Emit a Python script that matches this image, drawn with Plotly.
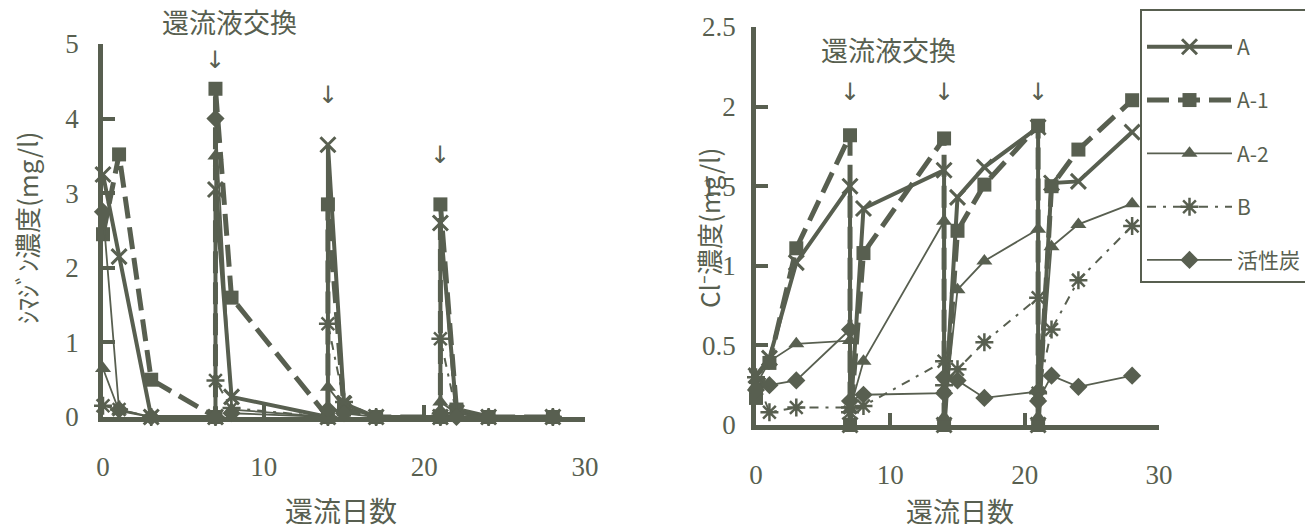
import plotly.graph_objects as go

# ---------------- data ----------------
days = [0, 1, 3, 7, 7, 8, 14, 14, 15, 17, 21, 21, 22, 24, 28]
names = ["A", "A-1", "A-2", "B", "活性炭"]

# simazine concentration (mg/l)
sim_A   = [3.25, 2.15, 0.00, 0.00, 3.05, 0.27, 0.00, 3.65, 0.18, 0.00, 0.00, 2.60, 0.06, 0.00, 0.00]
sim_A1  = [2.45, 3.52, 0.50, 0.00, 4.40, 1.60, 0.00, 2.85, 0.10, 0.00, 0.00, 2.85, 0.10, 0.00, 0.00]
sim_A2  = [0.65, 0.08, 0.00, 0.00, 3.50, 0.10, 0.00, 0.40, 0.12, 0.00, 0.00, 0.20, 0.05, 0.00, 0.00]
sim_B   = [0.15, 0.10, 0.00, 0.00, 0.49, 0.12, 0.00, 1.25, 0.20, 0.00, 0.00, 1.05, 0.05, 0.00, 0.00]
sim_AC  = [2.75, 0.10, 0.00, 0.00, 4.00, 0.05, 0.00, 0.10, 0.05, 0.00, 0.00, 0.05, 0.00, 0.00, 0.00]

# chloride concentration (mg/l)
cl_A    = [0.31, 0.42, 1.02, 1.50, 0.00, 1.36, 1.60, 0.00, 1.43, 1.62, 1.87, 0.00, 1.52, 1.53, 1.84]
cl_A1   = [0.17, 0.39, 1.11, 1.82, 0.00, 1.08, 1.80, 0.00, 1.22, 1.51, 1.88, 0.00, 1.50, 1.73, 2.04]
cl_A2   = [0.25, 0.40, 0.51, 0.53, 0.10, 0.40, 1.28, 0.05, 0.85, 1.03, 1.23, 0.05, 1.12, 1.26, 1.39]
cl_B    = [0.30, 0.08, 0.11, 0.11, 0.08, 0.12, 0.40, 0.25, 0.35, 0.52, 0.80, 0.20, 0.60, 0.91, 1.25]
cl_AC   = [0.22, 0.25, 0.28, 0.60, 0.15, 0.19, 0.20, 0.30, 0.28, 0.17, 0.21, 0.15, 0.31, 0.24, 0.31]

sim_series = [sim_A, sim_A1, sim_A2, sim_B, sim_AC]
cl_series = [cl_A, cl_A1, cl_A2, cl_B, cl_AC]

left_yticks = [0, 1, 2, 3, 4, 5]
right_yticks = [0, 0.5, 1, 1.5, 2, 2.5]
right_yticklabels = ["0", "0.5", "1", "1.5", "2", "2.5"]
xticks = [0, 10, 20, 30]
exchange_days = [7, 14, 21]

# ---------------- style ----------------
C = "#585f50"
W, H = 1305, 531
SERIF = "Liberation Serif"
JP = "Noto Sans CJK JP"

styles = [
    dict(line=dict(color=C, width=4),
         marker=dict(symbol="x-thin", size=15, color=C, line=dict(width=3, color=C))),
    dict(line=dict(color=C, width=5, dash="22px,9px"),
         marker=dict(symbol="square", size=14, color=C)),
    dict(line=dict(color=C, width=1.8),
         marker=dict(symbol="triangle-up", size=14, color=C)),
    dict(line=dict(color=C, width=2, dash="9px,7px,3px,7px"),
         marker=dict(symbol="asterisk", size=15, color=C, line=dict(width=2.5, color=C))),
    dict(line=dict(color=C, width=1.8),
         marker=dict(symbol="diamond", size=14, color=C)),
]

fig = go.Figure()
for i, n in enumerate(names):
    fig.add_trace(go.Scatter(x=days, y=sim_series[i], mode="lines+markers", name=n,
                             legendgroup=n, showlegend=False, cliponaxis=False,
                             xaxis="x", yaxis="y", **styles[i]))
for i, n in enumerate(names):
    fig.add_trace(go.Scatter(x=days, y=cl_series[i], mode="lines+markers", name=n,
                             legendgroup=n, showlegend=True, cliponaxis=False,
                             xaxis="x2", yaxis="y2", **styles[i]))

axis_common = dict(showline=True, linecolor=C, linewidth=4.5, ticks="inside", ticklen=12,
                   tickwidth=4, tickcolor=C, showgrid=False, zeroline=False,
                   tickfont=dict(family=SERIF, size=27, color=C))

def px_x(p):
    return p / W

def px_y(p):
    return (H - p) / H

fig.update_layout(
    width=W, height=H, margin=dict(l=0, r=0, t=0, b=0, autoexpand=False),
    paper_bgcolor="white", plot_bgcolor="white",
    xaxis=dict(domain=[px_x(103), px_x(585)], range=[0, 30], tickvals=xticks,
               anchor="y", ticklabelstandoff=22, **axis_common),
    yaxis=dict(domain=[px_y(417), px_y(44)], range=[0, 5], tickvals=left_yticks,
               anchor="x", ticklabelstandoff=14, **axis_common),
    xaxis2=dict(domain=[px_x(756), px_x(1159)], range=[0, 30], tickvals=xticks,
                anchor="y2", ticklabelstandoff=22, **axis_common),
    yaxis2=dict(domain=[px_y(425), px_y(27)], range=[0, 2.5], tickvals=right_yticks,
                ticktext=right_yticklabels, anchor="x2", ticklabelstandoff=10, **axis_common),
    legend=dict(x=px_x(1140), y=px_y(9), xanchor="left", yanchor="top",
                bgcolor="white", bordercolor=C, borderwidth=2,
                font=dict(family=JP, size=21, color=C),
                title=dict(text=" ", font=dict(size=12)),
                tracegroupgap=23, itemwidth=85),
    showlegend=True,
)

def txt(text, x, y, size, angle=0, xref="paper"):
    return dict(text=text, xref=xref, yref="paper", x=x, y=px_y(y), showarrow=False,
                xanchor="center", yanchor="middle", textangle=angle,
                font=dict(family=JP, size=size, color=C))

ann = []
# axis titles
ann.append(txt("還流日数", px_x(341), 510, 28))
ann.append(txt("還流日数", px_x(960), 510, 27))
ann.append(txt("ｼﾏｼﾞﾝ濃度(mg/l)", px_x(26), 228, 26, -90))
ann.append(txt("Cl⁻濃度(mg/l)", px_x(708), 228, 26, -90))
# exchange labels
ann.append(txt("還流液交換", px_x(230), 22, 27))
ann.append(txt("還流液交換", px_x(888), 50, 27))
left_arrow_y = [60, 95, 155]
for d, yy in zip(exchange_days, left_arrow_y):
    a = txt("↓", d, yy, 24, xref="x")
    a["font"]["family"] = "DejaVu Sans"
    ann.append(a)
for d in exchange_days:
    a = txt("↓", d, 92, 24, xref="x2")
    a["font"]["family"] = "DejaVu Sans"
    ann.append(a)
fig.update_layout(annotations=ann)

fig.write_html("out.html", config={"displayModeBar": False},
               post_script="document.body.style.margin='0';")
